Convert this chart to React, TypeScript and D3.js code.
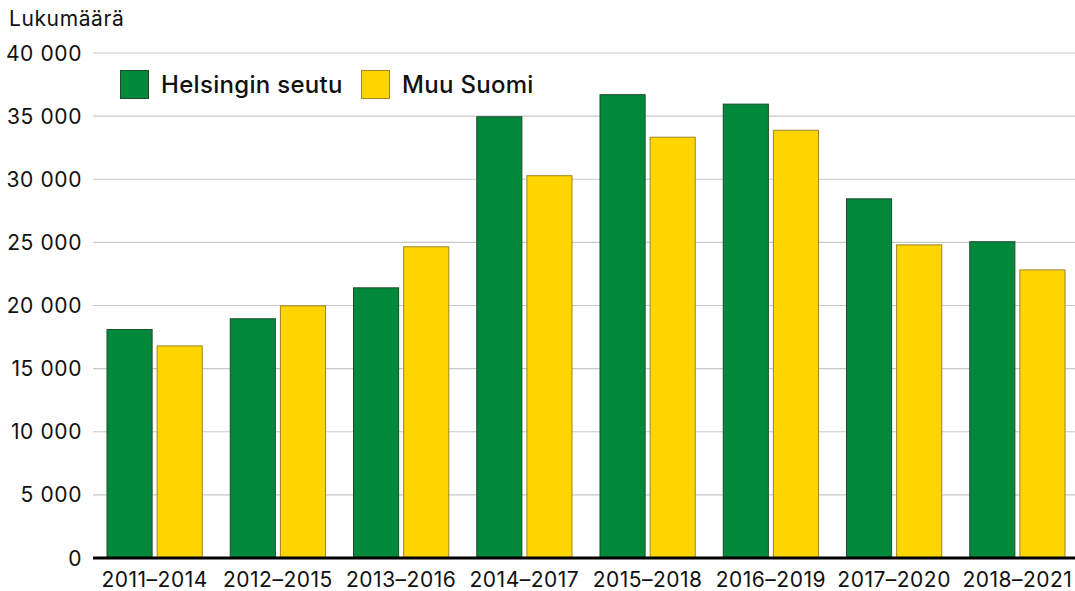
import React from 'react';
import * as d3 from 'd3';

const periods = ['2011–2014', '2012–2015', '2013–2016', '2014–2017', '2015–2018', '2016–2019', '2017–2020', '2018–2021'];
const helsinki = [18100, 18950, 21400, 34950, 36700, 35950, 28450, 25050];
const muuSuomi = [16800, 19970, 24650, 30280, 33330, 33880, 24800, 22820];
const yTicks = [0, 5000, 10000, 15000, 20000, 25000, 30000, 35000, 40000];
const seriesNames = ['Helsingin seutu', 'Muu Suomi'];

const W = 1075;
const H = 591;
const FONT = 'Inter, Roboto, "Noto Sans", sans-serif';
const green = '#00893b';
const greenStroke = '#1f4a2c';
const yellow = '#ffd500';
const yellowStroke = '#9c8526';

const fmt = (v: number) => (v === 0 ? '0' : d3.format(',')(v).replace(/,/g, ' '));

export default function App() {
  const x = d3.scaleBand<string>().domain(periods).range([93, 1079]);
  const inner = d3.scaleBand<number>().domain([0, 1]).range([14, x.bandwidth() - 14]).paddingInner(0.1);
  const y = d3.scaleLinear().domain([0, 40000]).range([558, 53]);

  const series = [
    { name: seriesNames[0], values: helsinki, fill: green, stroke: greenStroke },
    { name: seriesNames[1], values: muuSuomi, fill: yellow, stroke: yellowStroke },
  ];

  return (
    <svg width={W} height={H} style={{ position: 'absolute', left: 0, top: 0, background: '#fff' }} fontFamily={FONT}>
      <text x={9} y={26} fontSize={21} letterSpacing={0.6} fill="#111">Lukumäärä</text>
      {yTicks.map(t => (
        <g key={t}>
          {t > 0 && <line x1={93} x2={W} y1={y(t)} y2={y(t)} stroke="#c8c8c8" strokeWidth={1.2} />}
          <text x={82} y={y(t)} dy="0.36em" textAnchor="end" fontSize={21} letterSpacing={0.6} fill="#111">{fmt(t)}</text>
        </g>
      ))}
      {periods.map((p, i) => (
        <g key={p} transform={`translate(${x(p)},0)`}>
          {series.map((s, j) => (
            <rect
              key={s.name}
              x={inner(j)}
              y={y(s.values[i])}
              width={inner.bandwidth()}
              height={y(0) - y(s.values[i])}
              fill={s.fill}
              stroke={s.stroke}
              strokeWidth={1}
            />
          ))}
          <text x={x.bandwidth() / 2} y={587} textAnchor="middle" fontSize={21} letterSpacing={0.5} fill="#111">{p}</text>
        </g>
      ))}
      <line x1={93} x2={W} y1={y(0)} y2={y(0)} stroke="#000" strokeWidth={3} />
      <g>
        <rect x={120.5} y={70.5} width={28} height={28} fill={green} stroke={greenStroke} />
        <text x={161} y={93} fontSize={24} fontWeight={500} letterSpacing={0.3} fill="#111">{seriesNames[0]}</text>
        <rect x={361.5} y={70.5} width={28} height={28} fill={yellow} stroke={yellowStroke} />
        <text x={402} y={93} fontSize={24} fontWeight={500} letterSpacing={0.3} fill="#111">{seriesNames[1]}</text>
      </g>
    </svg>
  );
}
